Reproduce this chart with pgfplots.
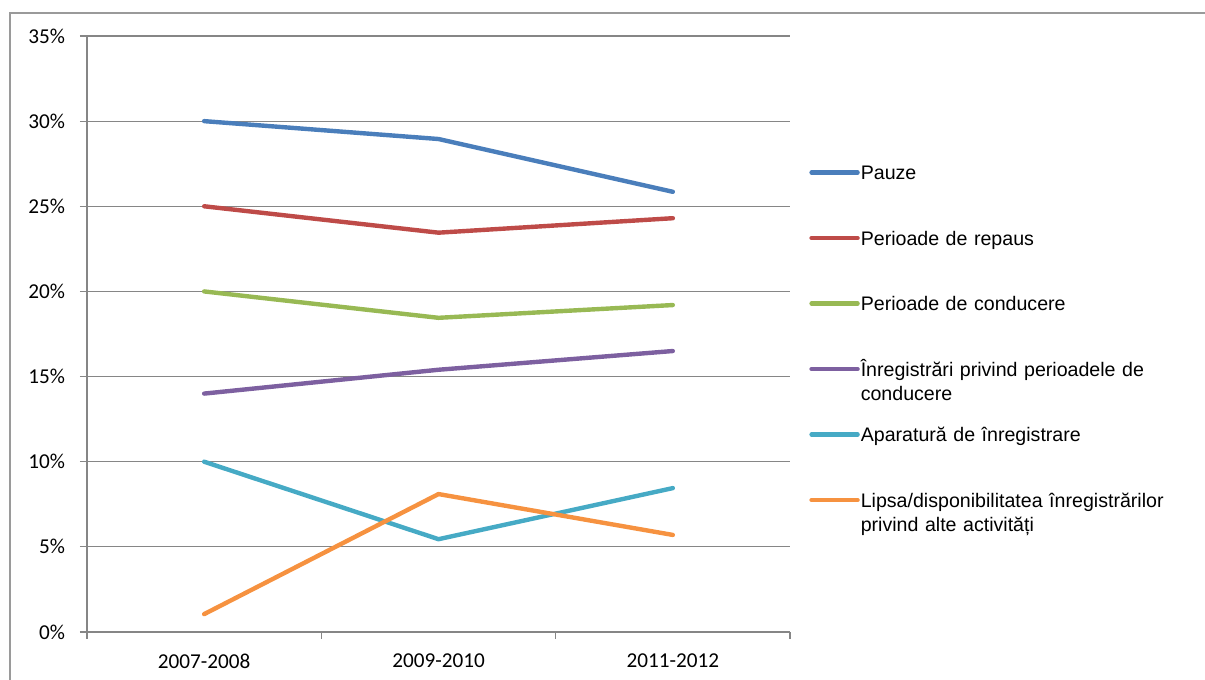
\documentclass[border=0pt]{standalone}
\usepackage{fontspec}
\setmainfont{Liberation Sans}
\newfontfamily\calib{Carlito}
\usepackage{pgfplots}
\pgfplotsset{compat=1.18}
\definecolor{sBlue}{HTML}{4A7EBB}
\definecolor{sRed}{HTML}{BE4B48}
\definecolor{sGreen}{HTML}{98B954}
\definecolor{sPurple}{HTML}{7D60A0}
\definecolor{sAqua}{HTML}{46AAC5}
\definecolor{sOrange}{HTML}{F69240}
\definecolor{axgray}{HTML}{868686}
\definecolor{framegray}{HTML}{9A9A9A}
\begin{document}
\begin{tikzpicture}
\useasboundingbox (0pt,0pt) rectangle (602.5pt,340pt);
\draw[framegray, line width=0.8pt] (5pt,0pt) -- (5pt,333.5pt) -- (602.5pt,333.5pt);
\begin{axis}[
  at={(43.5pt,24pt)}, anchor=south west,
  width=351.5pt, height=298pt, scale only axis,
  xmin=-0.5, xmax=2.5, ymin=0, ymax=35,
  axis lines=left,
  axis line style={-, draw=axgray, line width=0.6pt},
  tick style={draw=axgray, line width=0.6pt},
  tick align=outside,
  major tick length=3.5pt,
  /pgf/number format/assume math mode=true,
  xtick={-0.5,0.5,1.5,2.5},
  xticklabels={},
  extra x ticks={0,1,2},
  extra x tick labels={2007-2008,2009-2010,2011-2012},
  extra x tick style={major tick length=0pt, grid=none, xticklabel style={yshift=-7.5pt}},
  ytick={0,5,...,35},
  ymajorgrids,
  grid style={draw=axgray, line width=0.6pt},
  yticklabel={\pgfmathprintnumber{\tick}\%},
  yticklabel style={xshift=-4pt},
  tick label style={font=\calib\fontsize{10.6}{12}\selectfont},
  every axis plot/.append style={line width=2.2pt, line cap=round, line join=round},
  legend image code/.code={\draw[#1] (0pt,0pt) -- (23pt,0pt);},
  legend cell align=left,
  legend style={draw=none, fill=none, at={(axis description cs:1.027,0.79)}, anchor=north west,
    inner sep=0pt, row sep=21.75pt, column sep=0pt,
    font=\fontsize{9.8}{12}\selectfont,
    nodes={text width=180pt, align=left, text height=7pt, text depth=0pt, inner xsep=0.5pt}},
]
\addplot[sBlue] coordinates {(0,30) (1,28.95) (2,25.85)};
\addlegendentry{Pauze}
\addplot[sRed] coordinates {(0,25) (1,23.45) (2,24.3)};
\addlegendentry{Perioade de repaus}
\addplot[sGreen] coordinates {(0,20) (1,18.45) (2,19.2)};
\addlegendentry{Perioade de conducere}
\addplot[sPurple] coordinates {(0,14) (1,15.4) (2,16.5)};
\addlegendentry{Înregistrări privind perioadele de\\conducere}
\addplot[sAqua] coordinates {(0,10) (1,5.45) (2,8.45)};
\addlegendentry{Aparatură de înregistrare}
\addplot[sOrange] coordinates {(0,1.05) (1,8.1) (2,5.7)};
\addlegendentry{Lipsa/disponibilitatea înregistrărilor\\privind alte activități}
\end{axis}
\end{tikzpicture}
\end{document}
